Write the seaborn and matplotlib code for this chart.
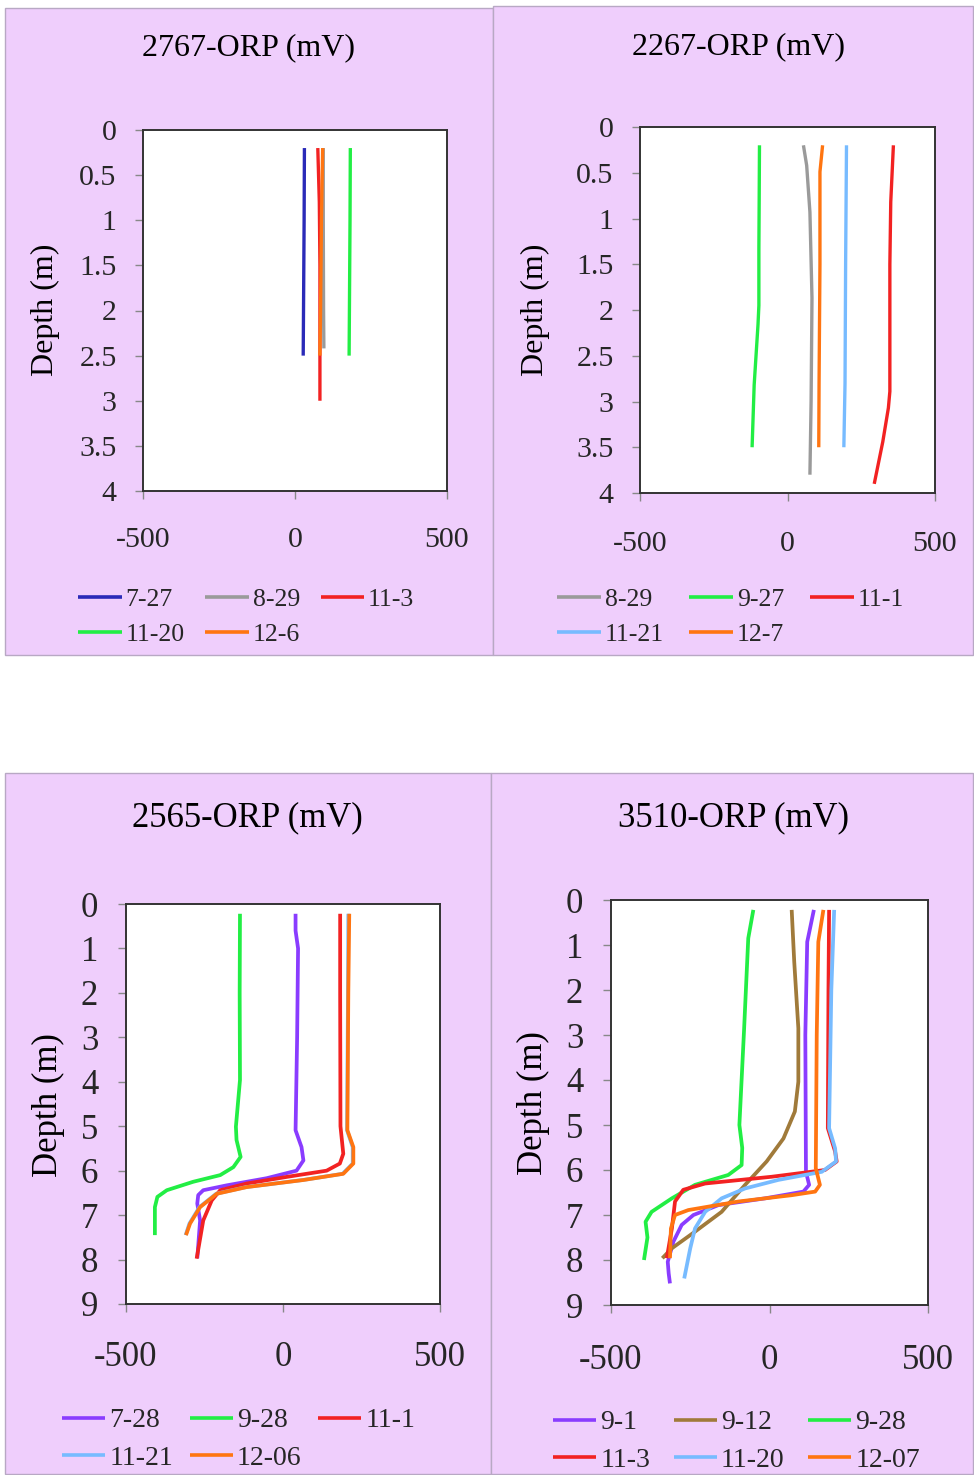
import numpy as np
import pandas as pd
import matplotlib
matplotlib.use("Agg")
import matplotlib.pyplot as plt
import seaborn as sns
from matplotlib.patches import Rectangle

# ---------------- data ----------------
# Panel 1: 2767
p1_labels = ["7-27", "8-29", "11-3", "11-20", "12-6"]
p1_727_depth = [0.2, 1.0, 2.0, 2.5]
p1_727_orp = [31, 30, 28, 27]
p1_829_depth = [0.2, 1.0, 2.0, 2.42]
p1_829_orp = [93, 93, 94, 95]
p1_113_depth = [0.2, 0.8, 1.5, 2.5, 3.0]
p1_113_orp = [75, 80, 82, 82, 82]
p1_1120_depth = [0.2, 1.0, 2.0, 2.5]
p1_1120_orp = [182, 181, 179, 178]
p1_126_depth = [0.2, 1.0, 2.0, 2.5]
p1_126_orp = [91, 87, 84, 82]

# Panel 2: 2267
p2_labels = ["8-29", "9-27", "11-1", "11-21", "12-7"]
p2_829_depth = [0.2, 0.42, 0.93, 1.87, 3.0, 3.8]
p2_829_orp = [54, 65, 76, 83, 80, 76]
p2_927_depth = [0.2, 0.8, 1.33, 1.95, 2.16, 2.82, 3.5]
p2_927_orp = [-95, -96, -97, -97, -100, -113, -120]
p2_111_depth = [0.2, 0.82, 1.5, 2.89, 3.07, 3.44, 3.9]
p2_111_orp = [359, 350, 347, 347, 342, 323, 294]
p2_1121_depth = [0.2, 1.5, 2.8, 3.5]
p2_1121_orp = [200, 197, 195, 191]
p2_127_depth = [0.2, 0.49, 1.5, 2.8, 3.5]
p2_127_orp = [119, 110, 110, 107, 106]

# Panel 3: 2565
p3_labels = ["7-28", "9-28", "11-1", "11-21", "12-06"]
p3_728_depth = [0.22, 0.6, 1.0, 3.0, 5.09, 5.47, 5.77, 6.0, 6.17, 6.33, 6.44, 6.55, 6.74, 7.12, 7.97]
p3_728_orp = [40, 40, 48, 45, 40, 59, 65, 43, -52, -179, -254, -270, -273, -264, -273]
p3_928_depth = [0.22, 2.0, 3.96, 5.01, 5.31, 5.69, 5.92, 6.1, 6.25, 6.44, 6.59, 6.82, 7.45]
p3_928_orp = [-137, -138, -137, -150, -148, -135, -158, -200, -286, -370, -400, -408, -408]
p3_111_depth = [0.22, 2.0, 5.0, 5.62, 5.84, 6.0, 6.14, 6.29, 6.44, 6.67, 7.12, 7.98]
p3_111_orp = [182, 182, 183, 192, 181, 139, 12, -116, -200, -227, -254, -275]
p3_1121_depth = [0.22, 2.0, 5.09, 5.47, 5.84, 6.07, 6.21, 6.37, 6.52, 6.82, 7.19, 7.45]
p3_1121_orp = [208, 207, 204, 222, 222, 190, 63, -118, -213, -266, -298, -310]
p3_1206_depth = [0.22, 2.0, 5.09, 5.47, 5.84, 6.07, 6.21, 6.37, 6.52, 6.82, 7.19, 7.45]
p3_1206_orp = [211, 208, 205, 224, 224, 192, 65, -116, -211, -264, -296, -309]

# Panel 4: 3510
p4_labels = ["9-1", "9-12", "9-28", "11-3", "11-20", "12-07"]
p4_91_depth = [0.22, 0.93, 3.0, 6.04, 6.33, 6.48, 6.63, 6.78, 7.0, 7.22, 7.59, 8.04, 8.3, 8.52]
p4_91_orp = [140, 119, 113, 115, 125, 107, -14, -161, -240, -277, -303, -321, -318, -314]
p4_912_depth = [0.22, 1.37, 2.85, 4.04, 4.7, 5.3, 5.81, 6.33, 6.93, 7.37, 7.74, 7.96]
p4_912_orp = [70, 78, 91, 91, 80, 44, -9, -77, -151, -235, -308, -338]
p4_928_depth = [0.22, 0.85, 2.85, 5.0, 5.51, 5.89, 6.11, 6.33, 6.63, 6.93, 7.15, 7.5, 8.0]
p4_928_orp = [-51, -67, -80, -95, -86, -88, -130, -235, -308, -372, -391, -385, -396]
p4_113_depth = [0.22, 2.0, 5.07, 5.59, 5.81, 6.0, 6.15, 6.3, 6.44, 6.7, 7.3, 7.96]
p4_113_orp = [188, 186, 184, 207, 212, 175, 7, -203, -272, -298, -308, -324]
p4_1120_depth = [0.22, 2.0, 5.07, 5.52, 5.81, 6.04, 6.22, 6.41, 6.63, 6.93, 7.3, 7.74, 8.41]
p4_1120_orp = [204, 195, 188, 207, 210, 165, 28, -77, -151, -203, -235, -250, -269]
p4_1207_depth = [0.22, 0.93, 3.0, 5.96, 6.33, 6.48, 6.56, 6.7, 6.89, 7.0, 7.3, 7.96]
p4_1207_orp = [170, 154, 149, 146, 159, 144, 70, -98, -256, -298, -311, -314]

titles = ["2767-ORP (mV)", "2267-ORP (mV)", "2565-ORP (mV)", "3510-ORP (mV)"]
x_ticks = [-500, 0, 500]
y_ticks_top = [0, 0.5, 1, 1.5, 2, 2.5, 3, 3.5, 4]
y_ticks_bottom = [0, 1, 2, 3, 4, 5, 6, 7, 8, 9]

# ---------------- style ----------------
sns.set_theme(style="white")
plt.rcParams["font.family"] = ["Liberation Serif", "DejaVu Serif"]
plt.rcParams["axes.unicode_minus"] = False

COL = {
    "blue": "#2A2AB8", "gray": "#9A9A9A", "red": "#F22222", "green": "#22EE44",
    "orange": "#FF7511", "lblue": "#77BBFF", "purple": "#8A3CFF", "brown": "#A07A3A",
}
BG = "#EFCEFC"

W, H = 974, 1475
fig = plt.figure(figsize=(W / 100, H / 100), dpi=100)
fig.patch.set_facecolor("white")


def fx(px):
    return px / W


def fy(py):
    return 1 - py / H


def panel_rect(x0, y0, x1, y1):
    fig.patches.append(Rectangle((fx(x0), fy(y1)), fx(x1 - x0), (y1 - y0) / H,
                                 transform=fig.transFigure, facecolor=BG,
                                 edgecolor="#B8A8C4", linewidth=1.0, zorder=-10))


panel_rect(5, 8, 493, 655)
panel_rect(493, 6, 973, 655)
panel_rect(5, 773, 491, 1474)
panel_rect(491, 773, 973, 1474)


def make_df(series):
    frames = []
    for lab, dep, orp in series:
        frames.append(pd.DataFrame({"depth": dep, "orp": orp, "date": lab}))
    return pd.concat(frames, ignore_index=True)


def row_major(items, ncol=3):
    # reorder so a column-filled legend reads row by row
    nrow = int(np.ceil(len(items) / ncol))
    out = []
    for c in range(ncol):
        for r in range(nrow):
            i = r * ncol + c
            if i < len(items):
                out.append(items[i])
    return out


def draw(box, series, palette, yticks, ymax, title, title_xy, ylabel_xy,
         leg_xy, fs_title, fs_tick, fs_leg, xpad, ypad, hl, ls, cs, lw):
    x0, y0, x1, y1 = box
    ax = fig.add_axes([fx(x0), fy(y1), fx(x1 - x0), (y1 - y0) / H])
    ax.set_zorder(1)
    ax.set_facecolor("white")
    df = make_df(series)
    labels = [s[0] for s in series]
    sns.lineplot(data=df, x="orp", y="depth", hue="date", hue_order=labels,
                 palette=palette, sort=False, estimator=None, ax=ax,
                 linewidth=lw, legend=True)
    for ln in ax.get_lines():
        ln.set_solid_capstyle("butt")
        ln.set_solid_joinstyle("round")
    ax.set_xlim(-500, 500)
    ax.set_ylim(ymax, 0)
    ax.set_xticks(x_ticks)
    ax.set_xticklabels([str(t) for t in x_ticks])
    ax.set_yticks(yticks)
    ax.set_yticklabels([f"{t:g}" for t in yticks])
    ax.set_xlabel("")
    ax.set_ylabel("")
    for sp in ax.spines.values():
        sp.set_visible(True)
        sp.set_color("#333333")
        sp.set_linewidth(1.4)
    ax.tick_params(axis="x", direction="out", length=6, width=1, color="#888888",
                   pad=xpad, labelsize=fs_tick, bottom=True)
    ax.tick_params(axis="y", direction="out", length=6, width=1, color="#888888",
                   pad=ypad, labelsize=fs_tick, left=True)
    fig.text(fx(title_xy[0]), fy(title_xy[1]), title, ha="center", va="center",
             fontsize=fs_title, color="black")
    fig.text(fx(ylabel_xy[0]), fy(ylabel_xy[1]), "Depth (m)", ha="center",
             va="center", rotation=90, fontsize=fs_title, color="black")
    handles, labs = ax.get_legend_handles_labels()
    if ax.get_legend() is not None:
        ax.get_legend().remove()
    pairs = row_major(list(zip(handles, labs)))
    leg = ax.legend([p[0] for p in pairs], [p[1] for p in pairs], loc="upper left",
                    bbox_to_anchor=(fx(leg_xy[0]), fy(leg_xy[1])),
                    bbox_transform=fig.transFigure, ncol=3, frameon=False,
                    fontsize=fs_leg, borderpad=0, borderaxespad=0,
                    handlelength=hl, handletextpad=0.15, labelspacing=ls,
                    columnspacing=cs)
    for ln in leg.get_lines():
        ln.set_linewidth(2.6)
    return ax


series1 = [
    ("7-27", p1_727_depth, p1_727_orp), ("8-29", p1_829_depth, p1_829_orp),
    ("11-3", p1_113_depth, p1_113_orp), ("11-20", p1_1120_depth, p1_1120_orp),
    ("12-6", p1_126_depth, p1_126_orp),
]
pal1 = dict(zip(p1_labels, [COL["blue"], COL["gray"], COL["red"], COL["green"], COL["orange"]]))

series2 = [
    ("8-29", p2_829_depth, p2_829_orp), ("9-27", p2_927_depth, p2_927_orp),
    ("11-1", p2_111_depth, p2_111_orp), ("11-21", p2_1121_depth, p2_1121_orp),
    ("12-7", p2_127_depth, p2_127_orp),
]
pal2 = dict(zip(p2_labels, [COL["gray"], COL["green"], COL["red"], COL["lblue"], COL["orange"]]))

series3 = [
    ("7-28", p3_728_depth, p3_728_orp), ("9-28", p3_928_depth, p3_928_orp),
    ("11-1", p3_111_depth, p3_111_orp), ("11-21", p3_1121_depth, p3_1121_orp),
    ("12-06", p3_1206_depth, p3_1206_orp),
]
pal3 = dict(zip(p3_labels, [COL["purple"], COL["green"], COL["red"], COL["lblue"], COL["orange"]]))

series4 = [
    ("9-1", p4_91_depth, p4_91_orp), ("9-12", p4_912_depth, p4_912_orp),
    ("9-28", p4_928_depth, p4_928_orp), ("11-3", p4_113_depth, p4_113_orp),
    ("11-20", p4_1120_depth, p4_1120_orp), ("12-07", p4_1207_depth, p4_1207_orp),
]
pal4 = dict(zip(p4_labels, [COL["purple"], COL["brown"], COL["green"], COL["red"], COL["lblue"], COL["orange"]]))

draw((143, 130, 447, 491), series1, pal1, y_ticks_top, 4, titles[0], (248, 48), (45, 310),
     (78, 588), 23, 21.5, 18.5, 20, 13, 1.7, 0.45, 0.8, 2.4)
draw((640, 127, 935, 493), series2, pal2, y_ticks_top, 4, titles[1], (738, 47), (535, 310),
     (557, 588), 23, 21.5, 18.5, 21, 13, 1.7, 0.45, 1.0, 2.4)
draw((126, 904, 440, 1304), series3, pal3, y_ticks_bottom, 9, titles[2], (247, 818), (48, 1105),
     (62, 1408), 25, 25, 20, 21, 14, 1.55, 0.44, 0.6, 2.7)
draw((611, 900, 928, 1305), series4, pal4, y_ticks_bottom, 9, titles[3], (734, 818), (533, 1103),
     (553, 1410), 25, 25, 20, 22, 14, 1.55, 0.44, 0.85, 2.7)

fig.savefig("out.png", dpi=100, facecolor="white")
